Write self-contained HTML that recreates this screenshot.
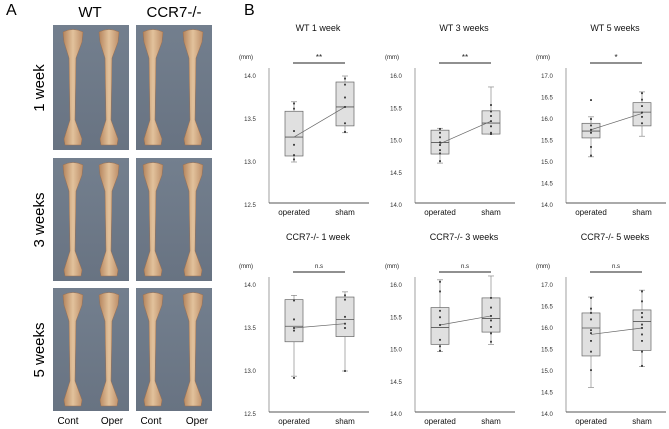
<!DOCTYPE html>
<html><head><meta charset="utf-8"><style>
html,body{margin:0;padding:0;background:#fff;}
svg{display:block;font-family:"Liberation Sans",sans-serif;}
</style></head><body>
<svg id="fig" width="669" height="429" viewBox="0 0 669 429">
<defs>
<linearGradient id="bg" x1="0" y1="0" x2="0" y2="1"><stop offset="0" stop-color="#737f8e"/><stop offset="1" stop-color="#687382"/></linearGradient>
<linearGradient id="bone" x1="0" y1="0" x2="1" y2="0"><stop offset="0" stop-color="#b5855d"/><stop offset="0.5" stop-color="#e2c29c"/><stop offset="1" stop-color="#bd8e68"/></linearGradient>
</defs>
<g id="panelA">
<text x="6" y="15" font-size="16">A</text>
<text x="90" y="17" font-size="15" text-anchor="middle">WT</text>
<text x="174" y="17" font-size="15" text-anchor="middle">CCR7-/-</text>
<text transform="translate(44,88) rotate(-90)" font-size="15" text-anchor="middle">1 week</text>
<text transform="translate(44,220) rotate(-90)" font-size="15" text-anchor="middle">3 weeks</text>
<text transform="translate(44,350) rotate(-90)" font-size="15" text-anchor="middle">5 weeks</text>
<text x="68" y="424" font-size="10" text-anchor="middle">Cont</text>
<text x="112" y="424" font-size="10" text-anchor="middle">Oper</text>
<text x="151" y="424" font-size="10" text-anchor="middle">Cont</text>
<text x="197" y="424" font-size="10" text-anchor="middle">Oper</text>
</g>
<g id="photos"></g>
<text x="244" y="15" font-size="16">B</text>
<g id="charts"></g>
</svg>
<script>
const NS='http://www.w3.org/2000/svg';
function mk(parent,tag,attrs,text){const e=document.createElementNS(NS,tag);for(const k in attrs)e.setAttribute(k,attrs[k]);if(text!==undefined)e.textContent=text;parent.appendChild(e);return e;}
const photos=document.getElementById('photos');
const colX=[53,136], rowY=[[25,150],[158,281],[288,411]];
const boneOff=[[20,56],[17,57]];
for(let r=0;r<3;r++)for(let c=0;c<2;c++){
  const x0=colX[c],y0=rowY[r][0],h=rowY[r][1]-y0;
  const g=mk(photos,'g',{});
  
  
  mk(g,'rect',{x:x0,y:y0,width:76,height:h,fill:'url(#bg)'});
  for(const off of boneOff[c]){
    const cx=x0+off,t=y0+5,b=y0+h-5;
    const d=`M${cx-10},${t+2} Q${cx},${t-3} ${cx+10},${t+2} L${cx+9},${t+12} L${cx+3},${t+28} L${cx+2},${b-25} L${cx+9},${b-6} L${cx+8},${b} L${cx-8},${b} L${cx-9},${b-6} L${cx-3},${b-25} L${cx-4},${t+28} L${cx-9},${t+12} Z`;
    mk(g,'path',{d:d,fill:'url(#bone)',stroke:'#9c7050','stroke-width':0.5});
  }
}
const titles=['WT 1 week','WT 3 weeks','WT 5 weeks','CCR7-/- 1 week','CCR7-/- 3 weeks','CCR7-/- 5 weeks'];
const categories=['operated','sham'];
const sigLabels=['**','**','*','n.s','n.s','n.s'];
const yTicks=[[12.5,13.0,13.5,14.0],[14.0,14.5,15.0,15.5,16.0],[14.0,14.5,15.0,15.5,16.0,16.5,17.0],[12.5,13.0,13.5,14.0],[14.0,14.5,15.0,15.5,16.0],[14.0,14.5,15.0,15.5,16.0,16.5,17.0]];
const opStats=[[13.0,13.07,13.29,13.59,13.70],[14.65,14.79,14.97,15.16,15.19],[15.12,15.56,15.72,15.9,16.05],[12.94,13.34,13.52,13.83,13.88],[14.97,15.08,15.34,15.65,16.08],[14.62,15.35,16.0,16.35,16.72]];
const shamStats=[[13.34,13.42,13.64,13.93,14.0],[15.1,15.1,15.27,15.46,15.83],[15.6,15.84,16.16,16.38,16.63],[13.0,13.4,13.6,13.86,13.92],[15.08,15.27,15.48,15.8,16.14],[15.1,15.48,16.15,16.42,16.88]];
const opMeans=[13.29,14.95,15.75,13.5,15.38,15.85];
const shamMeans=[13.64,15.3,16.13,13.55,15.52,16.0];
const opDots=[[13.68,13.62,13.36,13.2,13.08,13.03],[15.18,15.12,15.05,14.97,14.93,14.85,14.8,14.68],[16.44,16.0,15.85,15.75,15.68,15.35,15.15],[13.82,13.6,13.5,13.47,12.92],[16.05,15.9,15.6,15.5,15.38,15.15,15.05,14.98],[16.7,16.45,16.35,16.2,15.95,15.88,15.7,15.45,15.02]];
const shamDots=[[13.97,13.9,13.75,13.64,13.45,13.35],[15.55,15.45,15.38,15.3,15.22,15.12,15.1],[16.6,16.45,16.3,16.15,16.05,15.9],[13.88,13.83,13.63,13.55,13.5,13.0],[15.8,15.65,15.52,15.45,15.35,15.25,15.12],[16.85,16.62,16.35,16.25,16.08,16.0,15.85,15.7,15.45,15.12]];
const charts=document.getElementById('charts');
const axX=[269,415,566], rowOff=[0,209];
for(let i=0;i<6;i++){
  const ax=axX[i%3], ro=rowOff[Math.floor(i/3)];
  const yT=76+ro, yB=205+ro;
  const tk=yTicks[i], vmin=tk[0], vmax=tk[tk.length-1];
  const y=v=>yT+(vmax-v)/(vmax-vmin)*(yB-yT);
  const xc=k=>ax+25+k*51;
  const g=mk(charts,'g',{});
  
  
  const t=mk(g,'text',{x:ax+49,y:31+ro,'font-size':9,'text-anchor':'middle',fill:'#111'},titles[i]);
  
  
  const u=mk(g,'text',{x:ax-30,y:59+ro,'font-size':6,fill:'#222'},'(mm)');
  
  
  const ya=mk(g,'line',{x1:ax,y1:yT-8,x2:ax,y2:yB-2,stroke:'#888','stroke-width':0.8});
  
  
  const xa=mk(g,'line',{x1:ax,y1:yB-2,x2:ax+100,y2:yB-2,stroke:'#555','stroke-width':0.9});
  
  
  for(const v of tk){
    const l=mk(g,'text',{x:ax-19,y:y(v)+2,'font-size':6,'text-anchor':'middle',fill:'#333'},v.toFixed(1));
    
    
  }
  categories.forEach((c,k)=>{
    const l=mk(g,'text',{x:xc(k),y:yB+10,'font-size':8,'text-anchor':'middle',fill:'#111'},c);
    
    
  });
  const sb=mk(g,'line',{x1:ax+24,y1:63+ro,x2:ax+76,y2:63+ro,stroke:'#222','stroke-width':1});
  
  
  const sl=mk(g,'text',{x:ax+50,y:(sigLabels[i].startsWith('*')?60:59)+ro,'font-size':sigLabels[i].startsWith('*')?8:6,'text-anchor':'middle',fill:'#222'},sigLabels[i]);
  
  
  [opStats[i],shamStats[i]].forEach((s,k)=>{
    const cx=xc(k);
    const wl=mk(g,'line',{x1:cx,y1:y(s[0]),x2:cx,y2:y(s[4]),stroke:'#777','stroke-width':0.6});
    
    
    for(const v of [s[0],s[4]]){mk(g,'line',{x1:cx-3,y1:y(v),x2:cx+3,y2:y(v),stroke:'#777','stroke-width':0.6});}
    const b=mk(g,'rect',{x:cx-9,y:y(s[3]),width:18,height:y(s[1])-y(s[3]),fill:'#e0e0e0',stroke:'#666','stroke-width':0.7});
    
    
    const m=mk(g,'line',{x1:cx-9,y1:y(s[2]),x2:cx+9,y2:y(s[2]),stroke:'#555','stroke-width':0.8});
    
    
  });
  const ml=mk(g,'line',{x1:xc(0),y1:y(opMeans[i]),x2:xc(1),y2:y(shamMeans[i]),stroke:'#666','stroke-width':0.7});
  
  
  [opDots[i],shamDots[i]].forEach((arr,k)=>{
    arr.forEach(v=>{
      const d=mk(g,'rect',{x:xc(k)-0.9,y:y(v)-0.9,width:1.8,height:1.8,fill:'#333'});
      
      
    });
  });
}
</script>
</body></html>
